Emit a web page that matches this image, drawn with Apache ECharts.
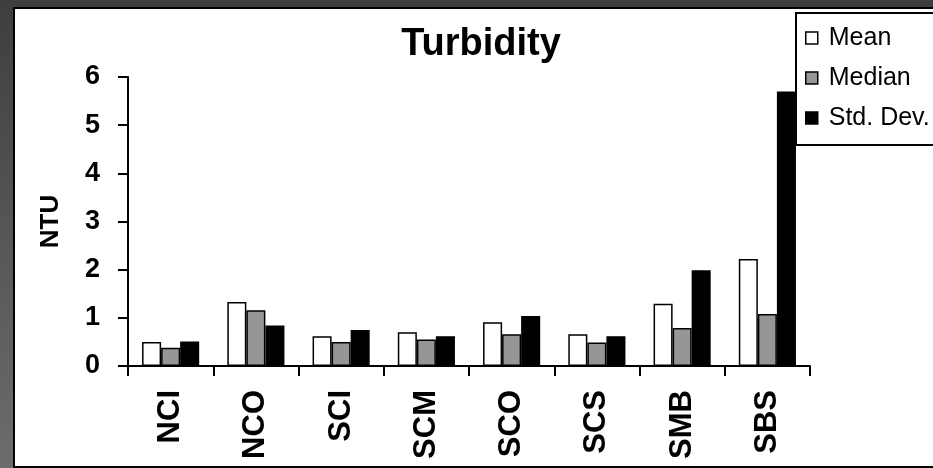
<!DOCTYPE html>
<html>
<head>
<meta charset="utf-8">
<script src="https://cdn.jsdelivr.net/npm/echarts@6/dist/echarts.min.js"></script>
<style>
  html, body { margin: 0; padding: 0; width: 933px; height: 468px; overflow: hidden; }
  body { background: linear-gradient(to bottom, #3e3e3e 0%, #565656 50%, #6c6c6c 100%); position: relative; }
  #frame {
    position: absolute; left: 13px; top: 7px; width: 940px; height: 461px;
    box-sizing: border-box; background: #fff; border: 2.5px solid #000;
  }
  #chart { position: absolute; left: 0; top: 0; width: 933px; height: 468px; }
</style>
</head>
<body>
<div id="frame"></div>
<div id="chart"></div>
<script>
// Sampling sites
const sites = ['NCI', 'NCO', 'SCI', 'SCM', 'SCO', 'SCS', 'SMB', 'SBS'];

// Turbidity statistics per site (NTU)
const meanValues   = [0.50, 1.33, 0.62, 0.70, 0.91, 0.66, 1.29, 2.22];
const medianValues = [0.38, 1.16, 0.50, 0.55, 0.66, 0.49, 0.79, 1.08];
const stdDevValues = [0.51, 0.84, 0.75, 0.62, 1.04, 0.62, 1.99, 5.70];

const seriesNames = ['Mean', 'Median', 'Std. Dev.'];
const seriesColors = ['#ffffff', '#969696', '#000000'];

const FONT = '"Liberation Sans", Arial, sans-serif';

const chart = echarts.init(document.getElementById('chart'), null, { renderer: 'canvas' });

function barSeries(name, data, color) {
  return {
    name: name,
    type: 'bar',
    data: data,
    barGap: '0%',
    barCategoryGap: '33%',
    itemStyle: { color: color, borderColor: '#000', borderWidth: 1.5 },
    emphasis: { disabled: true }
  };
}

chart.setOption({
  backgroundColor: 'transparent',
  animation: false,
  title: {
    text: 'Turbidity',
    left: 476,
    top: 21,
    textAlign: 'center',
    textStyle: { fontFamily: FONT, fontWeight: 'bold', fontSize: 38, color: '#000' }
  },
  legend: {
    orient: 'vertical',
    left: 796,
    top: 13,
    data: seriesNames,
    icon: 'rect',
    itemWidth: 12,
    itemHeight: 12,
    itemGap: 12,
    padding: [11, 30, 13, 9],
    backgroundColor: '#fff',
    borderColor: '#000',
    borderWidth: 2,
    borderRadius: 0,
    itemStyle: { borderColor: '#000', borderWidth: 1.5 },
    textStyle: { fontFamily: FONT, fontSize: 25, color: '#000', lineHeight: 28, padding: [0, 0, 0, 6] },
    selectedMode: false
  },
  grid: { left: 128, top: 77, right: 123, bottom: 102, containLabel: false },
  xAxis: {
    type: 'category',
    data: sites,
    axisLine: { lineStyle: { color: '#000', width: 2 } },
    axisTick: { show: true, inside: false, length: 10, alignWithLabel: false, lineStyle: { color: '#000', width: 2 } },
    axisLabel: {
      rotate: 90, margin: 24, interval: 0,
      fontFamily: FONT, fontWeight: 'bold', fontSize: 31, color: '#000'
    },
    splitLine: { show: false }
  },
  yAxis: {
    type: 'value',
    min: 0, max: 6, interval: 1,
    name: 'NTU',
    nameLocation: 'middle',
    nameGap: 64,
    nameRotate: 90,
    nameTextStyle: { fontFamily: FONT, fontWeight: 'bold', fontSize: 26, color: '#000' },
    axisLine: { show: true, lineStyle: { color: '#000', width: 2 } },
    axisTick: { show: true, inside: false, length: 10, lineStyle: { color: '#000', width: 2 } },
    axisLabel: { margin: 28, fontFamily: FONT, fontWeight: 'bold', fontSize: 27, color: '#000' },
    splitLine: { show: false }
  },
  series: [
    barSeries(seriesNames[0], meanValues, seriesColors[0]),
    barSeries(seriesNames[1], medianValues, seriesColors[1]),
    barSeries(seriesNames[2], stdDevValues, seriesColors[2])
  ]
});
</script>
</body>
</html>
